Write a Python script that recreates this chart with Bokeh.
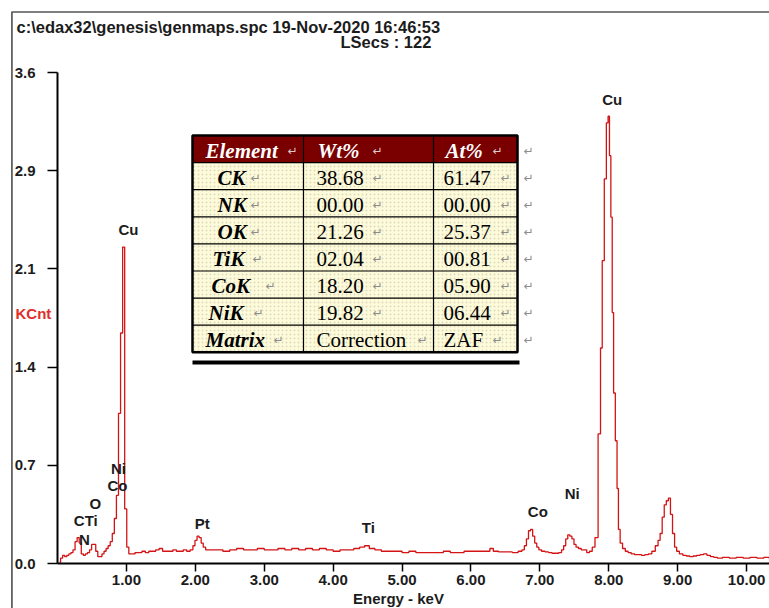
from bokeh.plotting import figure
from bokeh.models import Range1d, FixedTicker, Label
from bokeh.core.properties import value
from bokeh.embed import file_html
from bokeh.resources import INLINE

# ---------------- data ----------------
energy = [
    0.03, 0.06, 0.09, 0.12, 0.15, 0.18, 0.21, 0.24, 0.27, 0.30, 0.33, 0.36, 0.39, 0.42, 0.45,
    0.48, 0.51, 0.54, 0.57, 0.60, 0.63, 0.66, 0.69, 0.72, 0.75, 0.78, 0.81, 0.84, 0.87, 0.90,
    0.93, 0.96, 0.99, 1.02, 1.05,
    1.10, 1.15, 1.20, 1.25, 1.30, 1.35, 1.40, 1.45, 1.50, 1.55, 1.60, 1.65, 1.70, 1.75, 1.80,
    1.85, 1.90, 1.95, 1.98, 2.01, 2.04, 2.07, 2.10, 2.13, 2.17,
    2.25, 2.35, 2.45, 2.55, 2.65, 2.75, 2.85, 2.95, 3.05, 3.15, 3.25, 3.35, 3.45, 3.55, 3.65,
    3.75, 3.85, 3.95, 4.05, 4.15, 4.25, 4.35, 4.42, 4.49, 4.56, 4.65, 4.75, 4.85, 4.95, 5.05,
    5.15, 5.25, 5.35, 5.45, 5.55, 5.65, 5.75, 5.85, 5.95, 6.05, 6.15, 6.25, 6.30, 6.35, 6.45,
    6.55, 6.65, 6.72,
    6.76, 6.79, 6.82, 6.85, 6.88, 6.91, 6.94, 6.97, 7.00, 7.05, 7.10, 7.15, 7.20, 7.25, 7.30,
    7.33, 7.36, 7.39, 7.42, 7.45, 7.48, 7.51, 7.54, 7.58, 7.62, 7.66, 7.70, 7.74, 7.78, 7.82,
    7.87, 7.89, 7.92, 7.95, 7.98, 8.00, 8.02, 8.04, 8.06, 8.08, 8.11, 8.13, 8.15, 8.18, 8.22,
    8.26, 8.30, 8.35, 8.40, 8.45, 8.50, 8.55, 8.60, 8.65, 8.70, 8.73, 8.76, 8.79, 8.82, 8.85,
    8.88, 8.91, 8.94, 8.97, 9.00, 9.05, 9.10, 9.15, 9.20, 9.25, 9.30, 9.35, 9.40, 9.45, 9.50,
    9.55, 9.60, 9.70, 9.80, 9.90, 10.00, 10.10, 10.20, 10.30, 10.35,
]
counts = [
    0.01, 0.04, 0.06, 0.05, 0.06, 0.07, 0.08, 0.10, 0.16, 0.19, 0.15, 0.07, 0.06, 0.07, 0.08,
    0.10, 0.14, 0.14, 0.09, 0.05, 0.05, 0.07, 0.09, 0.11, 0.13, 0.16, 0.22, 0.33, 0.50, 1.10,
    1.69, 2.32, 0.40, 0.12, 0.07,
    0.07, 0.08, 0.08, 0.09, 0.08, 0.09, 0.09, 0.10, 0.11, 0.09, 0.09, 0.09, 0.10, 0.09, 0.09,
    0.10, 0.09, 0.10, 0.13, 0.17, 0.20, 0.19, 0.15, 0.12, 0.10,
    0.10, 0.10, 0.09, 0.10, 0.11, 0.10, 0.10, 0.11, 0.10, 0.10, 0.11, 0.10, 0.11, 0.10, 0.11,
    0.10, 0.11, 0.10, 0.09, 0.10, 0.10, 0.11, 0.12, 0.13, 0.11, 0.10, 0.09, 0.09, 0.09, 0.08,
    0.09, 0.08, 0.08, 0.08, 0.08, 0.09, 0.08, 0.08, 0.09, 0.09, 0.09, 0.09, 0.11, 0.09, 0.085,
    0.085, 0.08, 0.09,
    0.10, 0.13, 0.18, 0.24, 0.25, 0.20, 0.15, 0.12, 0.10, 0.09, 0.085, 0.08, 0.075, 0.075, 0.08,
    0.10, 0.13, 0.18, 0.21, 0.20, 0.18, 0.14, 0.12, 0.11, 0.10, 0.10, 0.08, 0.09, 0.12, 0.19,
    0.95, 1.58, 2.22, 2.82, 3.23, 3.28, 2.99, 2.54, 1.84, 1.25, 0.90, 0.55, 0.25, 0.15, 0.11,
    0.09, 0.08, 0.07, 0.065, 0.065, 0.06, 0.065, 0.07, 0.09, 0.13, 0.17, 0.22, 0.34, 0.43, 0.46,
    0.48, 0.36, 0.22, 0.12, 0.09, 0.07, 0.06, 0.055, 0.05, 0.055, 0.06, 0.065, 0.07, 0.06, 0.05,
    0.045, 0.04, 0.045, 0.04, 0.045, 0.04, 0.045, 0.04, 0.045, 0.04,
]
assert len(energy) == len(counts)

y_ticks = [0.0, 0.72, 1.44, 2.16, 2.88, 3.6]
y_tick_labels = ["0.0", "0.7", "1.4", "2.1", "2.9", "3.6"]
x_ticks = [1, 2, 3, 4, 5, 6, 7, 8, 9, 10]
x_tick_labels = ["1.00", "2.00", "3.00", "4.00", "5.00", "6.00", "7.00", "8.00", "9.00", "10.00"]

peak_names = ["Cu", "Ni", "Co", "O", "CTi", "N", "Pt", "Ti", "Co", "Ni", "Cu"]
peak_kev = [1.03, 0.885, 0.87, 0.55, 0.41, 0.39, 2.10, 4.51, 6.97, 7.47, 8.05]
peak_kcnt = [2.45, 0.70, 0.57, 0.44, 0.315, 0.176, 0.293, 0.264, 0.381, 0.513, 3.40]

table_header = ["Element", "Wt%", "At%"]
table_elements = ["CK", "NK", "OK", "TiK", "CoK", "NiK", "Matrix"]
table_wt = ["38.68", "00.00", "21.26", "02.04", "18.20", "19.82", "Correction"]
table_at = ["61.47", "00.00", "25.37", "00.81", "05.90", "06.44", "ZAF"]

header_line1 = "c:\\edax32\\genesis\\genmaps.spc  19-Nov-2020 16:46:53"
header_line2 = "LSecs : 122"

# ---------------- layout ----------------
W, H = 769, 608
FL, FR, FT, FB = 57, 769, 72, 563
XMAX = (FR - 57.1) / 68.9
YMAX = 3.6


def X(px):
    return (px - FL) / (FR - FL) * XMAX


def Y(py):
    return (FB - py) / (FB - FT) * YMAX


SANS = "Liberation Sans"
SERIF = "Liberation Serif"
INK = "#1c1c1c"

p = figure(width=W, height=H, output_backend="svg", toolbar_location=None,
           x_range=Range1d(0, XMAX), y_range=Range1d(0, YMAX),
           min_border_left=FL, min_border_right=W - FR, min_border_top=FT,
           min_border_bottom=H - FB)
p.outline_line_color = None
p.grid.visible = False
p.background_fill_color = "white"
p.border_fill_color = "white"

# axes
p.yaxis.ticker = FixedTicker(ticks=y_ticks)
p.yaxis.major_label_overrides = {t: l for t, l in zip(y_ticks, y_tick_labels)}
p.xaxis.ticker = FixedTicker(ticks=x_ticks)
p.xaxis.major_label_overrides = {t: l for t, l in zip(x_ticks, x_tick_labels)}
for ax in (p.xaxis[0], p.yaxis[0]):
    ax.axis_line_color = "black"
    ax.axis_line_width = 2
    ax.major_tick_line_color = "black"
    ax.major_tick_line_width = 1.5
    ax.major_tick_in = 0
    ax.minor_tick_line_color = None
    ax.major_label_text_font = SANS
    ax.major_label_text_font_style = "bold"
    ax.major_label_text_font_size = "15px"
    ax.major_label_text_color = INK
p.yaxis.major_tick_out = 10
p.yaxis.major_label_standoff = 12
p.xaxis.major_tick_out = 8
p.xaxis.major_label_standoff = 3

# spectrum
p.step(x=energy, y=counts, mode="center", line_color="#d41414", line_width=1.3)

# peak labels
p.text(x=peak_kev, y=peak_kcnt, text=peak_names, text_align="center", text_baseline="middle",
       text_font=value(SANS), text_font_style="bold", text_font_size="15px", text_color=INK)

# ---------------- table ----------------
col_px = [192, 303, 433, 517]
row_top, row_h, nrows = 135, 27.1, 8
rows_px = [row_top + i * row_h for i in range(nrows + 1)]

p.quad(left=[X(col_px[0])], right=[X(col_px[-1])], top=[Y(rows_px[0])], bottom=[Y(rows_px[1])],
       fill_color="#7a0000", line_color=None)
p.quad(left=[X(col_px[0])], right=[X(col_px[-1])], top=[Y(rows_px[1])], bottom=[Y(rows_px[-1])],
       fill_color="#fdfbda", line_color=None, hatch_pattern=".", hatch_color="#cfcdb0",
       hatch_scale=4, hatch_weight=0.6, hatch_alpha=0.7)
p.segment(x0=[X(c) for c in col_px[1:-1]], x1=[X(c) for c in col_px[1:-1]],
          y0=[Y(rows_px[0])] * 2, y1=[Y(rows_px[-1])] * 2, line_color="black", line_width=1.2)
p.segment(x0=[X(col_px[0])] * (nrows - 1), x1=[X(col_px[-1])] * (nrows - 1),
          y0=[Y(r) for r in rows_px[1:-1]], y1=[Y(r) for r in rows_px[1:-1]],
          line_color="black", line_width=1.2)
p.quad(left=[X(col_px[0])], right=[X(col_px[-1])], top=[Y(rows_px[0])], bottom=[Y(rows_px[-1])],
       fill_color=None, line_color="black", line_width=2.5)
p.segment(x0=[X(192)], x1=[X(519)], y0=[Y(362)], y1=[Y(362)], line_color="black", line_width=4)

row_centers = [Y((rows_px[i] + rows_px[i + 1]) / 2 + 1.5) for i in range(nrows)]
elem_left_px = [205, 217, 217, 217, 212, 211, 208, 205]
p.text(x=[X(elem_left_px[0]), X(317), X(445)], y=[row_centers[0]] * 3, text=table_header,
       text_align="left", text_baseline="middle", text_font=value(SERIF),
       text_font_style="bold italic", text_font_size="21px", text_color="white")
p.text(x=[X(v) for v in elem_left_px[1:]], y=row_centers[1:], text=table_elements,
       text_align="left", text_baseline="middle", text_font=value(SERIF),
       text_font_style="bold italic", text_font_size="21px", text_color="black")
p.text(x=[X(316)] * 7, y=row_centers[1:], text=table_wt, text_align="left",
       text_baseline="middle", text_font=value(SERIF), text_font_size="21px", text_color="black")
p.text(x=[X(443)] * 7, y=row_centers[1:], text=table_at, text_align="left",
       text_baseline="middle", text_font=value(SERIF), text_font_size="21px", text_color="black")

mark_px = [(287, 372, 492, 523), (250, 372, 500, 523), (250, 372, 500, 523), (250, 372, 500, 523),
           (252, 372, 500, 523), (265, 372, 500, 523), (253, 372, 500, 523), (273, 417, 492, 523)]
mx, my, mc = [], [], []
for i, row in enumerate(mark_px):
    for j, m in enumerate(row):
        mx.append(X(m))
        my.append(row_centers[i])
        mc.append("#d9c9c9" if (i == 0 and j < 3) else "#8c8c8c")
p.text(x=mx, y=my, text=["\u21b5"] * len(mx), text_color=mc, text_align="left",
       text_baseline="middle", text_font=value("DejaVu Sans"), text_font_size="12px")

# ---------------- texts outside the frame (side panels, so not clipped) ----------------
p.add_layout(Label(x=X(16), y=Y(26), text=header_line1, text_align="left", text_baseline="middle",
                   text_font=SANS, text_font_style="bold", text_font_size="16.5px",
                   text_color=INK), "above")
p.add_layout(Label(x=X(340), y=Y(41), text=header_line2, text_align="left", text_baseline="middle",
                   text_font=SANS, text_font_style="bold", text_font_size="16.5px",
                   text_color=INK), "above")
p.add_layout(Label(x=X(15), y=Y(313), text="KCnt", text_align="left", text_baseline="middle",
                   text_font=SANS, text_font_style="bold", text_font_size="15px",
                   text_color="#e0302a"), "above")
p.add_layout(Label(x=X(398), y=Y(598), text="Energy - keV", text_align="center",
                   text_baseline="middle", text_font=SANS, text_font_style="bold",
                   text_font_size="15px", text_color=INK), "below")

# frame lines of the instrument printout (top rule and left rule)
try:
    top_rule = Label(x=X(12), y=Y(11), text=" ", text_align="left", text_baseline="top",
                     text_font_size="1px", background_fill_color="black",
                     padding=(1, 757, 0, 0))
    left_rule = Label(x=X(12), y=Y(11), text=" ", text_align="left", text_baseline="top",
                      text_font_size="1px", background_fill_color="black",
                      angle=-90, angle_units="deg", padding=(1, 600, 0, 0))
    p.add_layout(top_rule, "above")
    p.add_layout(left_rule, "above")
except Exception:
    pass

open("out.html", "w").write(file_html(p, INLINE))
